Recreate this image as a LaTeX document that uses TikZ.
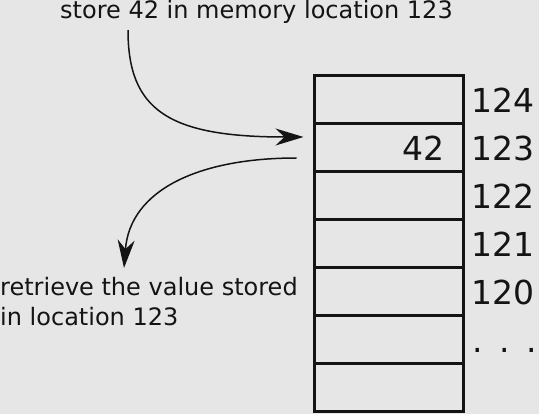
\documentclass[tikz,border=0pt]{standalone}
\usepackage{fontspec}
\setmainfont{DejaVu Sans}
\usepackage{tikz}
\usetikzlibrary{arrows.meta,positioning,calc}
\definecolor{paper}{RGB}{230,230,230}
\definecolor{ink}{RGB}{20,20,20}

\begin{document}
\begin{tikzpicture}[x=1pt,y=-1pt,
  cell/.style={draw=ink,line width=3pt,minimum width=149pt,minimum height=48pt,inner sep=0pt},
  addr/.style={anchor=west,inner sep=0pt,text=ink,font=\fontsize{33}{36}\selectfont},
  note/.style={inner sep=0pt,text=ink,font=\fontsize{24}{30}\selectfont,align=left},
  flow/.style={draw=ink,line width=1.5pt,-{Stealth[length=28pt,width=17pt,inset=9pt]}}]
\fill[paper] (0,0) rectangle (539,414);
\useasboundingbox (0,0) rectangle (539,414);
% memory cells
\node[cell] (c124) at (388.5,100) {};
\node[cell] (c123) at (388.5,148) {};
\node[cell] (c122) at (388.5,196) {};
\node[cell] (c121) at (388.5,244) {};
\node[cell] (c120) at (388.5,292) {};
\node[cell] (cmore) at (388.5,340) {};
\node[cell] (cend) at (388.5,388) {};
\node[addr,left=20pt of c123.east,anchor=east] (val) {42};
% addresses
\node[addr,right=7pt of c124] (a124) {124};
\node[addr,right=7pt of c123] (a123) {123};
\node[addr,right=7pt of c122] (a122) {122};
\node[addr,right=7pt of c121] (a121) {121};
\node[addr,right=7pt of c120] (a120) {120};
\node[addr,right=8pt of cmore] (amore) {\vphantom{1}.\hspace{16.5pt}.\hspace{16.5pt}.};
% notes
\node[note,anchor=base west] (store) at (60,19) {store 42 in memory location 123};
\node[note,anchor=north west] (fetch) at (0,277) {retrieve the value stored\\in location 123};
\draw[flow] ($(store.south west)+(68,6)$) .. controls +(0,80) and +(-135,0) .. ($(c123.west)+(-9,-11)$);
\draw[flow] ($(c123.west)+(-16,10)$) .. controls +(-98,0) and +(6,-78) .. ($(fetch.north west)+(124,-9)$);
\end{tikzpicture}
\end{document}
